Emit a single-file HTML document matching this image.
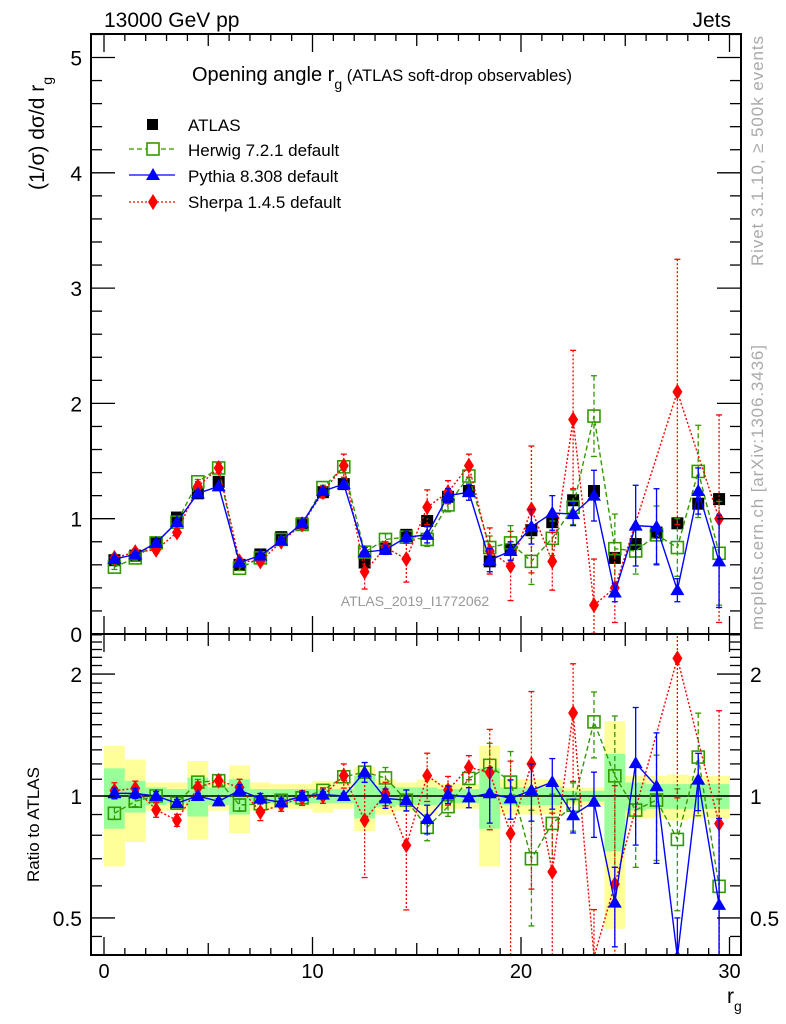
<!DOCTYPE html>
<html><head><meta charset="utf-8"><style>
html,body{margin:0;background:#fff;width:786px;height:1024px;overflow:hidden}
svg{display:block}
svg text{font-family:"Liberation Sans",sans-serif}
</style></head><body>
<div style="position:relative;width:786px;height:1024px;overflow:hidden">
<svg id="c" width="786" height="1024" xmlns="http://www.w3.org/2000/svg" style="position:absolute;left:0;top:0"></svg>
<svg width="786" height="1024" xmlns="http://www.w3.org/2000/svg" style="position:absolute;left:0;top:0">
<text x="104" y="27" font-size="21" font-family="Liberation Sans">13000 GeV pp</text>
<text x="731" y="27" font-size="21" text-anchor="end" font-family="Liberation Sans">Jets</text>
<text transform="translate(44,190) rotate(-90)" font-size="21" font-family="Liberation Sans">(1/σ) dσ/d r<tspan font-size="14" dy="8">g</tspan></text>
<text x="192" y="81" font-size="20" font-family="Liberation Sans">Opening angle r<tspan font-size="14" dy="8">g</tspan><tspan font-size="16.5" dy="-8"> (ATLAS soft-drop observables)</tspan></text>
<g font-family="Liberation Sans" font-size="17">
<rect x="147" y="119" width="11" height="11" fill="#000"/><text x="188" y="131">ATLAS</text>
<line x1="129" x2="175" y1="149" y2="149" stroke="#339900" stroke-dasharray="5,3" stroke-width="1.3"/><rect x="147" y="143" width="12" height="12" fill="#fff" stroke="#339900" stroke-width="1.6"/><text x="188" y="156">Herwig 7.2.1 default</text>
<line x1="129" x2="175" y1="175" y2="175" stroke="#0000ff" stroke-width="1.3"/><polygon points="153,168 146,180 160,180" fill="#0000ff"/><text x="188" y="182">Pythia 8.308 default</text>
<line x1="129" x2="175" y1="202" y2="202" stroke="#ff0000" stroke-dasharray="2,2" stroke-width="1.3"/><polygon points="153,194 148,202 153,210 158,202" fill="#ff0000"/><text x="188" y="208">Sherpa 1.4.5 default</text>
</g>
<text x="415" y="606" font-size="14" fill="#999" text-anchor="middle" font-family="Liberation Sans">ATLAS_2019_I1772062</text>
<text transform="translate(763,266) rotate(-90)" font-size="17" fill="#aaa" textLength="230" font-family="Liberation Sans">Rivet 3.1.10, ≥ 500k events</text>
<text transform="translate(763,630) rotate(-90)" font-size="17" fill="#aaa" textLength="285" font-family="Liberation Sans">mcplots.cern.ch [arXiv:1306.3436]</text>
<text transform="translate(39,882) rotate(-90)" font-size="17" font-family="Liberation Sans">Ratio to ATLAS</text>
<text x="727" y="1003" font-size="21" font-family="Liberation Sans">r<tspan font-size="14" dy="8">g</tspan></text>
</svg>
</div>
<script>
const bins=[0.5,1.5,2.5,3.5,4.5,5.5,6.5,7.5,8.5,9.5,10.5,11.5,12.5,13.5,14.5,15.5,16.5,17.5,18.5,19.5,20.5,21.5,22.5,23.5,24.5,25.5,26.5,27.5,28.5,29.5];
const atlas=[0.64,0.68,0.79,1.01,1.22,1.32,0.60,0.69,0.84,0.96,1.23,1.30,0.62,0.74,0.86,0.98,1.19,1.24,0.63,0.73,0.90,0.97,1.16,1.24,0.66,0.78,0.88,0.96,1.13,1.17];
const atlasStat=[0.17,0.09,0.05,0.04,0.11,0.05,0.10,0.04,0.04,0.04,0.04,0.04,0.12,0.06,0.05,0.05,0.04,0.04,0.17,0.05,0.05,0.05,0.03,0.03,0.27,0.08,0.07,0.07,0.07,0.07];
const atlasTot=[0.33,0.23,0.08,0.08,0.22,0.08,0.19,0.08,0.07,0.07,0.09,0.07,0.18,0.10,0.08,0.10,0.07,0.07,0.33,0.10,0.10,0.10,0.05,0.05,0.53,0.12,0.12,0.13,0.12,0.12];
const herwig=[0.58,0.66,0.79,0.97,1.32,1.44,0.57,0.66,0.82,0.95,1.27,1.45,0.71,0.82,0.84,0.82,1.12,1.37,0.75,0.79,0.63,0.83,1.10,1.89,0.74,0.72,0.86,0.75,1.41,0.70];
const herwigErr=[0.02,0.02,0.02,0.02,0.02,0.02,0.02,0.02,0.02,0.02,0.02,0.03,0.04,0.05,0.05,0.06,0.06,0.07,0.10,0.15,0.20,0.15,0.15,0.35,0.30,0.20,0.25,0.25,0.40,0.45];
const pythia=[0.65,0.69,0.79,0.97,1.22,1.28,0.62,0.68,0.81,0.96,1.24,1.30,0.71,0.73,0.84,0.86,1.20,1.23,0.64,0.72,0.93,1.05,1.04,1.20,0.36,0.94,0.93,0.38,1.24,0.63];
const pythiaErr=[0.02,0.02,0.02,0.02,0.02,0.02,0.02,0.02,0.02,0.02,0.02,0.02,0.04,0.04,0.05,0.07,0.06,0.07,0.10,0.08,0.15,0.15,0.10,0.22,0.08,0.35,0.33,0.10,0.20,0.40];
const sherpa=[0.66,0.71,0.73,0.88,1.28,1.44,0.63,0.63,0.80,0.95,1.23,1.46,0.54,0.75,0.65,1.10,1.23,1.46,0.72,0.59,1.08,0.63,1.86,0.25,0.40,null,null,2.10,null,1.00];
const sherpaErr=[0.03,0.03,0.03,0.03,0.04,0.04,0.03,0.03,0.03,0.04,0.05,0.10,0.15,0.05,0.20,0.15,0.10,0.10,0.20,0.30,0.55,0.25,0.60,0.40,0.30,null,null,1.15,null,0.90];
const yTicksMain=[0,1,2,3,4,5];
const xTicks=[0,10,20,30];
const rTicks=[0.5,1,2];

const S=document.getElementById('c');const NS='http://www.w3.org/2000/svg';
function el(t,a,p){const e=document.createElementNS(NS,t);for(const k in a)e.setAttribute(k,a[k]);(p||S).appendChild(e);return e;}
const L=91,R=741,T=34,M=634,B=955;
const X=v=>104+20.85*v;
const Y=v=>Math.max(T-2,Math.min(M+2,634-115.3*v));
const RY=r=>Math.max(M-2,Math.min(B+2,796-405*Math.log10(r)));
const clipR=el('clipPath',{id:'cr'});el('rect',{x:L,y:M,width:R-L,height:B-M},clipR);
const clipM=el('clipPath',{id:'cm'});el('rect',{x:L,y:T,width:R-L,height:M-T},clipM);
const gBand=el('g',{'clip-path':'url(#cr)'});


bins.forEach((b,i)=>{
 const x0=X(b-0.5),x1=X(b+0.5);
 const yb=el('rect',{x:x0,y:RY(1+atlasTot[i]),width:x1-x0,height:RY(Math.max(1-atlasTot[i],0.3))-RY(1+atlasTot[i]),fill:'#ffff99'},gBand);
 
 
 const gb=el('rect',{x:x0,y:RY(1+atlasStat[i]),width:x1-x0,height:RY(1-atlasStat[i])-RY(1+atlasStat[i]),fill:'#99ff99'},gBand);
 
 
});
el('line',{x1:L,x2:R,y1:RY(1),y2:RY(1),stroke:'#000','stroke-width':1.5});
function marker(g,type,x,y,col){
 if(type==='sq')return el('rect',{x:x-6,y:y-6,width:12,height:12,fill:'#000'},g);
 if(type==='osq')return el('rect',{x:x-6,y:y-6,width:12,height:12,fill:'none',stroke:col,'stroke-width':1.6},g);
 if(type==='tri')return el('polygon',{points:`${x},${y-7} ${x-7},${y+5} ${x+7},${y+5}`,fill:col},g);
 return el('polygon',{points:`${x},${y-8} ${x-5},${y} ${x},${y+8} ${x+5},${y}`,fill:col},g);
}
function series(name,vals,errs,col,dash,type,ratio){
 const g=el('g',{'clip-path':ratio?'url(#cr)':'url(#cm)'});
 
 
 const yf=ratio?(v,i)=>RY(Math.max(v/atlas[i],0.01)):(v)=>Y(v);
 let pts=[];
 vals.forEach((v,i)=>{if(v!==null)pts.push([X(bins[i]),yf(v,i)]);});
 if(col){
  const pl=el('polyline',{points:pts.map(p=>p.join(',')).join(' '),fill:'none',stroke:col,'stroke-width':1.4,'stroke-dasharray':dash},g);
  
  
  vals.forEach((v,i)=>{if(v===null||!errs)return;const x=X(bins[i]);
   const y1=yf(v+errs[i],i),y2=yf(Math.max(v-errs[i],0.005),i);
   const eb=el('line',{x1:x,x2:x,y1:y1,y2:y2,stroke:col,'stroke-width':1.3,'stroke-dasharray':dash},g);
   
   
   el('line',{x1:x-3,x2:x+3,y1:y1,y2:y1,stroke:col,'stroke-width':1.3},g);
   el('line',{x1:x-3,x2:x+3,y1:y2,y2:y2,stroke:col,'stroke-width':1.3},g);
  });
 }
 vals.forEach((v,i)=>{if(v===null)return;
  if(ratio){const r=v/atlas[i];if(r<0.38||r>2.6)return;}
  const m=marker(g,type,X(bins[i]),yf(v,i),col);
  
  });
}
series('atlas',atlas,null,null,'','sq',false);
series('herwig',herwig,herwigErr,'#339900','5,3','osq',false);
series('sherpa',sherpa,sherpaErr,'#ff0000','2,2','dia',false);
series('pythia',pythia,pythiaErr,'#0000ff','','tri',false);
series('herwig',herwig,herwigErr,'#339900','5,3','osq',true);
series('sherpa',sherpa,sherpaErr,'#ff0000','2,2','dia',true);
series('pythia',pythia,pythiaErr,'#0000ff','','tri',true);
const f1=el('rect',{x:L,y:T,width:R-L,height:M-T,fill:'none',stroke:'#000','stroke-width':2});


const f2=el('rect',{x:L,y:M,width:R-L,height:B-M,fill:'none',stroke:'#000','stroke-width':2});


for(let v=0;v<=30;v++){const x=X(v);const lg=v%10===0?18:(v%5===0?12:7);
 [[T,1],[M,-1],[M,1],[B,-1]].forEach(([y0,d])=>el('line',{x1:x,x2:x,y1:y0,y2:y0+d*lg,stroke:'#000','stroke-width':1.3}));}
xTicks.forEach(v=>{const t=el('text',{x:X(v),y:978,'font-size':20,'text-anchor':'middle'});t.textContent=v;
 
 });
for(let k=0;k<=26;k++){const v=k*0.2;if(v>5.2)break;const y=Y(v);const lg=k%5===0?24:11;
 el('line',{x1:L,x2:L+lg,y1:y,y2:y,stroke:'#000','stroke-width':1.3});el('line',{x1:R,x2:R-lg,y1:y,y2:y,stroke:'#000','stroke-width':1.3});}
yTicksMain.forEach(v=>{const t=el('text',{x:82,y:Y(v)+8,'font-size':21,'text-anchor':'end'});t.textContent=v;
 
 });
const minor=[0.45,0.6,0.7,0.8,0.9,1.1,1.2,1.3,1.4,1.5,1.6,1.7,1.8,1.9,2.1,2.2,2.3,2.4,2.5];
minor.forEach(v=>{const y=RY(v);el('line',{x1:L,x2:L+11,y1:y,y2:y,stroke:'#000','stroke-width':1.3});el('line',{x1:R,x2:R-11,y1:y,y2:y,stroke:'#000','stroke-width':1.3});});
rTicks.forEach(v=>{const y=RY(v);el('line',{x1:L,x2:L+24,y1:y,y2:y,stroke:'#000','stroke-width':1.3});el('line',{x1:R,x2:R-24,y1:y,y2:y,stroke:'#000','stroke-width':1.3});
 const t=el('text',{x:82,y:y+8,'font-size':21,'text-anchor':'end'});t.textContent=v;
 
 
 const t2=el('text',{x:750,y:y+8,'font-size':21});t2.textContent=v;
 
 });
</script>
</body></html>
